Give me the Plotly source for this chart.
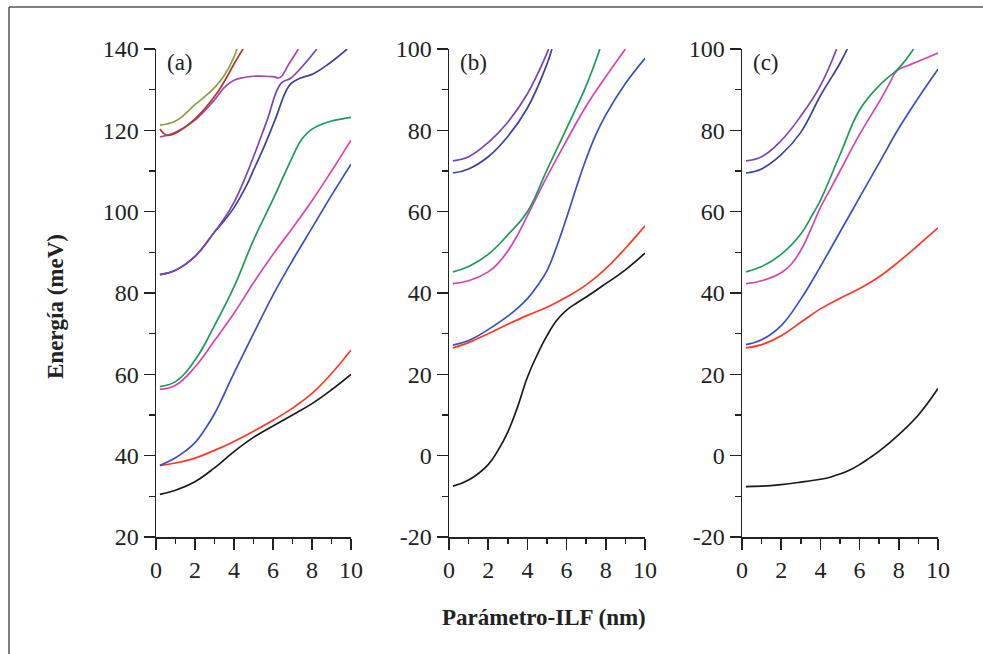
import plotly.graph_objects as go

# ---------------- data ----------------
P = [0.2, 1, 2, 3, 4, 5, 6, 7, 8, 9, 10]

# panel (a)
A_BLACK = [30.5, 31.5, 33.6, 37, 41, 44.5, 47.3, 50, 52.8, 56.2, 60]
A_RED = [37.6, 38.2, 39.4, 41.3, 43.5, 46, 48.7, 51.7, 55.3, 60.2, 66]
A_BLUE_P = [0.2, 1, 1.5, 2, 2.5, 3, 4, 5, 6, 7, 8, 9, 10]
A_BLUE = [37.6, 39.5, 41.1, 43.2, 46.4, 50.3, 60.3, 70, 79.5, 88, 96, 104, 111.7]
A_MAGENTA = [56.3, 57.3, 61.8, 68.3, 75, 82.5, 89.5, 96, 102.7, 110, 117.6]
A_GREEN_P = [0.2, 1, 2, 3, 4, 5, 6, 7, 7.5, 8, 8.5, 9, 10]
A_GREEN = [57, 58.2, 63.5, 72, 81.5, 93, 103, 113.5, 118, 120.3, 121.5, 122.3, 123.2]
A_VIOLET_P = [0.2, 1, 2, 3, 3.5, 4, 4.5, 5, 5.7, 6.4, 6.9, 7.5, 8.25]
A_VIOLET = [84.5, 85.6, 89, 95, 98.3, 102.3, 107.5, 113.5, 122.5, 131.5, 132.8, 135.7, 140]
A_DKBLUE_P = [0.2, 1, 2, 3, 3.5, 4, 4.65, 5, 5.5, 6.1, 6.8, 7.2, 8.1, 8.9, 9.8]
A_DKBLUE = [84.5, 85.6, 89, 95, 97.8, 101, 106.5, 110.2, 115.5, 122.5, 130.8, 132.4, 134, 136.5, 140]
A_PLATEAU_P = [0.2, 0.6, 1, 2, 3, 3.5, 4, 4.5, 5, 5.5, 6, 6.35, 6.8, 7.3]
A_PLATEAU = [118.4, 118.8, 119.5, 122.5, 127.5, 130.5, 132.3, 133, 133.3, 133.3, 133.2, 133, 136.2, 140]
A_DKRED_P = [0.2, 0.55, 1, 2, 3, 3.5, 4, 4.5]
A_DKRED = [120.3, 118.8, 119.3, 122.8, 128.3, 132, 136.3, 140.3]
A_OLIVE_P = [0.2, 1, 2, 3, 3.5, 4, 4.15]
A_OLIVE = [121.3, 122.3, 126.3, 130.5, 133.5, 138, 140]

# panel (b)
B_BLACK_P = [0.2, 1, 2, 2.5, 3, 3.5, 4, 4.5, 5, 5.5, 6, 6.5, 7, 8, 9, 10]
B_BLACK = [-7.5, -6, -2.2, 1.3, 5.8, 12, 19.3, 24.8, 29.5, 33.3, 35.8, 37.5, 39, 42.3, 45.7, 49.8]
B_RED = [26.5, 27.8, 30, 32.3, 34.5, 36.5, 39, 42, 46, 51, 56.5]
B_BLUE_P = [0.2, 1, 2, 3, 3.5, 4, 4.5, 5, 5.5, 6, 6.5, 7, 7.5, 8, 9, 10]
B_BLUE = [27.2, 28.3, 31, 34.3, 36.3, 38.6, 41.7, 45.5, 51.5, 58.5, 66, 73, 79, 83.8, 91.5, 97.7]
B_MAGENTA_P = [0.2, 1, 2, 2.5, 3, 3.5, 4, 5, 6, 7, 8, 9]
B_MAGENTA = [42.3, 43, 45.2, 47.3, 50.3, 54.3, 59, 68.6, 77.5, 86, 93.2, 100]
B_GREEN_P = [0.2, 1, 2, 3, 4, 5, 6, 7, 7.7]
B_GREEN = [45.2, 46.5, 49.5, 54.3, 60, 70.3, 80.5, 91, 100]
B_VIOLET_P = [0.2, 1, 2, 3, 4, 5, 5.08]
B_VIOLET = [72.5, 73.5, 77, 82, 89, 99, 100]
B_DKBLUE_P = [0.2, 1, 2, 3, 4, 5, 5.25]
B_DKBLUE = [69.5, 70.5, 73.5, 78.5, 85.5, 96.3, 100]

# panel (c)
C_BLACK_P = [0.2, 1, 2, 3, 4, 4.5, 5, 5.5, 6, 6.5, 7, 8, 9, 10]
C_BLACK = [-7.6, -7.5, -7.1, -6.5, -5.8, -5.3, -4.5, -3.5, -2.2, -0.6, 1.1, 5.2, 10, 16.5]
C_RED = [26.5, 27.3, 29.5, 32.8, 36.1, 38.7, 41.1, 44, 47.7, 51.8, 56]
C_BLUE = [27.3, 28.5, 32, 38.5, 46.5, 55, 63.5, 72, 80.5, 88, 95]
C_MAGENTA_P = [0.2, 1, 2, 2.5, 3, 3.5, 4, 4.5, 5, 6, 7, 7.5, 7.9, 8.5, 9, 10]
C_MAGENTA = [42.3, 43, 45, 47, 50.5, 55.5, 61, 65.5, 70, 79, 87, 91.3, 94.6, 96, 97, 99]
C_GREEN_P = [0.2, 1, 2, 3, 3.6, 4, 5, 6, 7, 7.5, 7.9, 8.3, 8.75]
C_GREEN = [45.2, 46.5, 49.5, 54.5, 59.3, 62.8, 74, 85, 91, 93.2, 94.8, 97, 100]
C_VIOLET_P = [0.2, 1, 2, 3, 4, 4.83]
C_VIOLET = [72.5, 73.5, 77.5, 83.5, 91, 100]
C_DKBLUE_P = [0.2, 1, 2, 3, 4, 5, 5.37]
C_DKBLUE = [69.5, 70.5, 74, 79.5, 88.5, 96.5, 100]

X_TICKS = [0, 2, 4, 6, 8, 10]
X_TICK_TEXT = ["0", "2", "4", "6", "8", "10"]
X_MINOR = [1, 3, 5, 7, 9]
Y_TICKS_A = [20, 40, 60, 80, 100, 120, 140]
Y_TICK_TEXT_A = ["20", "40", "60", "80", "100", "120", "140"]
Y_MINOR_A = [30, 50, 70, 90, 110, 130]
Y_TICKS_BC = [-20, 0, 20, 40, 60, 80, 100]
Y_TICK_TEXT_BC = ["-20", "0", "20", "40", "60", "80", "100"]
Y_MINOR_BC = [-10, 10, 30, 50, 70, 90]
PANEL_LABELS = ["(a)", "(b)", "(c)"]
X_TITLE = "Parámetro-ILF (nm)"
Y_TITLE = "Energía (meV)"

# ---------------- styles ----------------
COL = {
    "black": "#1a1a1a",
    "red": "#ff3826",
    "blue": "#3c4fbe",
    "magenta": "#d445b2",
    "green": "#1f9a58",
    "violet": "#7b45b6",
    "dkblue": "#40409e",
    "plateau": "#a545ae",
    "dkred": "#b03a2a",
    "olive": "#8f9c4a",
}
FONT = "Liberation Serif"

fig = go.Figure()


def add(xs, ys, color, ax):
    fig.add_trace(go.Scatter(
        x=xs, y=ys, mode="lines",
        line=dict(color=COL[color], width=1.7, shape="spline", smoothing=1.2),
        xaxis="x" + ax, yaxis="y" + ax, showlegend=False, hoverinfo="skip"))


# (a)
add(P, A_BLACK, "black", "")
add(P, A_RED, "red", "")
add(A_BLUE_P, A_BLUE, "blue", "")
add(P, A_MAGENTA, "magenta", "")
add(A_GREEN_P, A_GREEN, "green", "")
add(A_DKBLUE_P, A_DKBLUE, "dkblue", "")
add(A_VIOLET_P, A_VIOLET, "violet", "")
add(A_PLATEAU_P, A_PLATEAU, "plateau", "")
add(A_OLIVE_P, A_OLIVE, "olive", "")
add(A_DKRED_P, A_DKRED, "dkred", "")
# (b)
add(B_BLACK_P, B_BLACK, "black", "2")
add(P, B_RED, "red", "2")
add(B_BLUE_P, B_BLUE, "blue", "2")
add(B_MAGENTA_P, B_MAGENTA, "magenta", "2")
add(B_GREEN_P, B_GREEN, "green", "2")
add(B_DKBLUE_P, B_DKBLUE, "dkblue", "2")
add(B_VIOLET_P, B_VIOLET, "violet", "2")
# (c)
add(C_BLACK_P, C_BLACK, "black", "3")
add(P, C_RED, "red", "3")
add(P, C_BLUE, "blue", "3")
add(C_MAGENTA_P, C_MAGENTA, "magenta", "3")
add(C_GREEN_P, C_GREEN, "green", "3")
add(C_DKBLUE_P, C_DKBLUE, "dkblue", "3")
add(C_VIOLET_P, C_VIOLET, "violet", "3")

W, H = 983, 654
x_doms = [(156 / W, 351 / W), (449 / W, 645 / W), (742 / W, 938 / W)]
y_dom = (1 - 537 / H, 1 - 49 / H)

axis_common = dict(
    showline=True, linecolor="#222", linewidth=1.5, showgrid=False,
    zeroline=False, ticks="outside", tickwidth=1.5, tickcolor="#222",
    automargin=False,
    tickfont=dict(family=FONT, size=24, color="#222"),
)

layout = dict(
    width=W, height=H, paper_bgcolor="white", plot_bgcolor="white",
    margin=dict(l=0, r=0, t=0, b=0, pad=0, autoexpand=False), showlegend=False,
)
for i, suf in enumerate(["", "2", "3"]):
    layout["xaxis" + suf] = dict(
        axis_common, domain=list(x_doms[i]), range=[0, 10],
        anchor="y" + suf, tickmode="array", tickvals=X_TICKS,
        ticktext=X_TICK_TEXT, ticklen=11,
        minor=dict(tickmode="array", tickvals=X_MINOR, ticklen=5,
                   ticks="outside", tickwidth=1.5, tickcolor="#222",
                   showgrid=False),
    )
    if i == 0:
        yr, yt, ytt, ym = [20, 140], Y_TICKS_A, Y_TICK_TEXT_A, Y_MINOR_A
    else:
        yr, yt, ytt, ym = [-20, 100], Y_TICKS_BC, Y_TICK_TEXT_BC, Y_MINOR_BC
    layout["yaxis" + suf] = dict(
        axis_common, domain=list(y_dom), range=yr, anchor="x" + suf,
        tickmode="array", tickvals=yt, ticktext=ytt, ticklen=11,
        minor=dict(tickmode="array", tickvals=ym, ticklen=6,
                   ticks="outside", tickwidth=1.5, tickcolor="#222",
                   showgrid=False),
    )

fig.update_layout(**layout)

# panel labels
for i, lab in enumerate(PANEL_LABELS):
    fig.add_annotation(
        x=x_doms[i][0] + 9 / W, y=1 - 63 / H, xref="paper", yref="paper",
        text=lab, showarrow=False, xanchor="left", yanchor="middle",
        font=dict(family=FONT, size=23, color="#222"))

# axis titles
fig.add_annotation(
    x=55 / W, y=1 - 307 / H, xref="paper", yref="paper", text="<b>" + Y_TITLE + "</b>",
    showarrow=False, textangle=-90, xanchor="center", yanchor="middle",
    font=dict(family=FONT, size=23, color="#222"))
fig.add_annotation(
    x=544 / W, y=1 - 617 / H, xref="paper", yref="paper", text="<b>" + X_TITLE + "</b>",
    showarrow=False, xanchor="center", yanchor="middle",
    font=dict(family=FONT, size=23, color="#222"))

# frame lines (top and left)
fig.add_shape(type="line", xref="paper", yref="paper",
              x0=9 / W, x1=1, y0=1 - 7 / H, y1=1 - 7 / H,
              line=dict(color="#555", width=1.5))
fig.add_shape(type="line", xref="paper", yref="paper",
              x0=9 / W, x1=9 / W, y0=0, y1=1 - 7 / H,
              line=dict(color="#555", width=1.5))

fig.write_html(
    "out.html",
    config={"displayModeBar": False, "staticPlot": True},
    post_script="document.body.style.margin='0';document.body.style.overflow='hidden';",
)
